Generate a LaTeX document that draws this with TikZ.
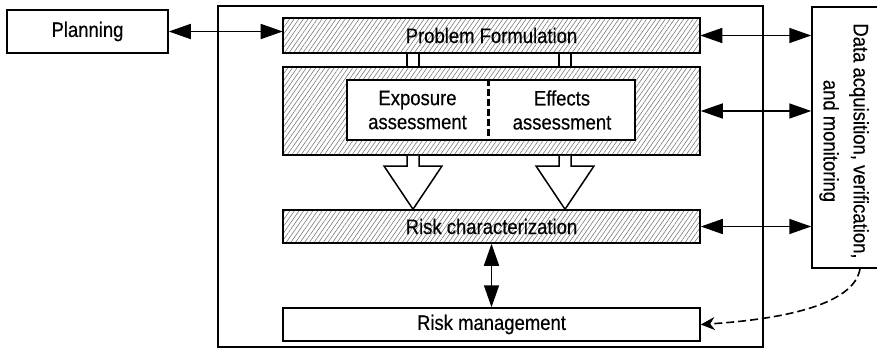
\documentclass[tikz,border=0pt]{standalone}
\usepackage{fontspec}
\setmainfont{Liberation Sans}[FakeStretch=0.88,FakeBold=0.4]
\usetikzlibrary{arrows.meta,patterns.meta,calc}
\begin{document}
\begin{tikzpicture}[x=1pt,y=-1pt,
  font=\fontsize{21}{24}\selectfont,
  box/.style={draw,line width=1.5pt,inner sep=0pt,align=center},
  hatch/.style={box,pattern={Lines[angle=55,distance=3.8pt,line width=0.55pt]},pattern color=black!55},
  tipA/.tip={Triangle[length=22pt,width=15pt]},
  dbl/.style={tipA-tipA,line width=1.6pt},
  hollow/.style={draw,fill=white,line width=1.5pt,line join=miter}]
\useasboundingbox (0,0) rectangle (877,353);
% outer frame
\node[box,minimum width=545pt,minimum height=341pt] (outer) at (490.5,176.5) {};
% left and right boxes
\node[box,minimum width=161pt,minimum height=43pt] (plan) at (87.5,31.5) {Planning};
\node[box,minimum width=72pt,minimum height=261pt] (data) at (848,137.5) {};
\node[rotate=-90,align=center,font=\fontsize{21}{30}\selectfont] (datatext) at (844,141) {Data acquisition, verification,\\and monitoring};
% hatched boxes
\node[hatch,minimum width=417pt,minimum height=35pt] (pf) at (491.5,35.5) {Problem Formulation};
\node[hatch,minimum width=417pt,minimum height=88pt] (mid) at (491.5,111) {};
\node[box,fill=white,minimum width=288pt,minimum height=60pt] (inner) at (491,110) {};
\node[align=center] (expo) at (417.5,110) {Exposure\\assessment};
\node[align=center] (eff) at (562,110) {Effects\\assessment};
\draw[line width=3pt,dash pattern=on 7pt off 3pt] (488,0 |- inner.north) -- (488,0 |- inner.south);
\node[hatch,minimum width=417pt,minimum height=33pt] (rc) at (491.5,226.5) {Risk characterization};
\node[box,minimum width=417pt,minimum height=33pt] (rm) at (491.5,324.5) {Risk management};
% small connectors between PF and middle box
\draw[line width=1.5pt] (407,0 |- pf.south) -- (407,0 |- mid.north)
  (419,0 |- pf.south) -- (419,0 |- mid.north)
  (559,0 |- pf.south) -- (559,0 |- mid.north)
  (571,0 |- pf.south) -- (571,0 |- mid.north);
% hollow arrows
\path[hollow] (407,0 |- mid.south) -- (407,166) -- (384,166) -- (413,0 |- rc.north) -- (442,166) -- (419,166) -- (419,0 |- mid.south);
\path[hollow] (559,0 |- mid.south) -- (559,166) -- (536,166) -- (565,0 |- rc.north) -- (594,166) -- (571,166) -- (571,0 |- mid.south);
% double arrows
\draw[dbl] (plan.east) -- (pf.west |- plan.east);
\draw[dbl] (pf.east) -- (data.west |- pf.east);
\draw[dbl] (mid.east) -- (data.west |- mid.east);
\draw[dbl] (rc.east) -- (data.west |- rc.east);
\draw[dbl] (rc.south) -- (rm.north);
% dashed feedback
\coordinate (dstart) at (860,0 |- data.south);
\draw[line width=1.6pt,dash pattern=on 8pt off 4pt,-{Stealth[length=14pt,width=13pt]}]
  (dstart) .. controls (855,300) and (800,318) .. (rm.east);
\end{tikzpicture}
\end{document}
